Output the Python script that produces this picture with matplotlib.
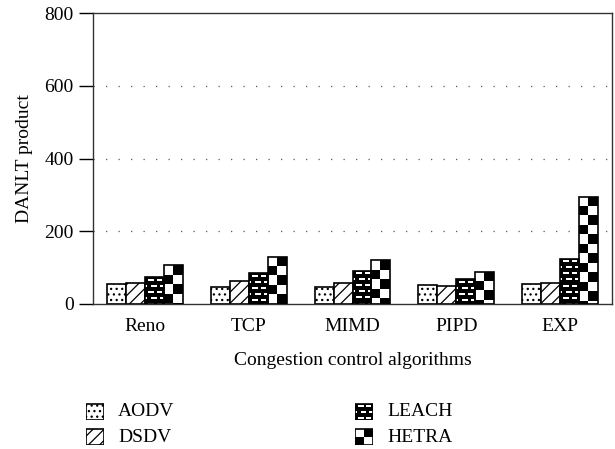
import numpy as np
import matplotlib.pyplot as plt
from matplotlib.patches import Rectangle

plt.rcParams['font.family'] = ['Liberation Serif', 'DejaVu Serif']
plt.rcParams['hatch.linewidth'] = 0.9

# data
algorithms = ["Reno", "TCP", "MIMD", "PIPD", "EXP"]
protocols = ["AODV", "DSDV", "LEACH", "HETRA"]
aodv = [56, 48, 48, 53, 56]
dsdv = [58, 62, 58, 50, 59]
leach = [74, 84, 92, 68, 124]
hetra = [106, 130, 120, 88, 295]
yticks = [0, 200, 400, 600, 800]

series = [aodv, dsdv, leach, hetra]
styles = ["dots", "stripes", "brick", "checker"]


def brick_tile():
    t = np.zeros((12, 19))
    t[2:4, 3:9] = 1
    t[2:4, 12:17] = 1
    t[8:10, 0:2] = 1
    t[8:10, 6:12] = 1
    t[8:10, 15:19] = 1
    return t


def checker_tile():
    return np.array([[1, 0], [0, 1]], dtype=float)


def pattern(kind, nrows):
    tile = brick_tile() if kind == "brick" else checker_tile()
    reps = int(np.ceil(nrows / tile.shape[0])) + 1
    return np.tile(tile, (reps, 1))[:nrows]


def draw_bar(ax, x0, w, h, kind, cell):
    if kind == "dots":
        ax.add_patch(Rectangle((x0, 0), w, h, facecolor="white", edgecolor="black",
                               hatch="...", linewidth=1.2))
        return
    if kind == "stripes":
        ax.add_patch(Rectangle((x0, 0), w, h, facecolor="white", edgecolor="black",
                               hatch="///", linewidth=1.2))
        return
    nrows = int(np.ceil(h / cell))
    img = pattern(kind, nrows)
    clip = Rectangle((x0, 0), w, h, transform=ax.transData, facecolor="none")
    ax.add_patch(clip)
    im = ax.imshow(img, cmap="gray", vmin=0, vmax=1, origin="upper",
                   extent=(x0, x0 + w, h - nrows * cell, h), aspect="auto",
                   interpolation="nearest", zorder=2)
    im.set_clip_path(clip)
    ax.add_patch(Rectangle((x0, 0), w, h, facecolor="none", edgecolor="black",
                           linewidth=1.2, zorder=3))


fig = plt.figure(figsize=(6.15, 4.49), dpi=100)
ax = fig.add_axes([93 / 615, 1 - 304 / 449, (612 - 93) / 615, (304 - 13) / 449])

x = np.arange(len(algorithms))
w = 0.183
cells = {"dots": 0, "stripes": 0, "brick": 2.75, "checker": 26}
for i, (vals, kind) in enumerate(zip(series, styles)):
    for j, v in enumerate(vals):
        x0 = x[j] - 2 * w + i * w
        draw_bar(ax, x0, w, v, kind, cells[kind])

ax.set_xlim(-0.5, 4.5)
ax.set_ylim(0, 800)
ax.set_yticks(yticks)
ax.set_xticks(x)
ax.set_xticklabels(algorithms, fontsize=14)
ax.tick_params(axis="x", length=0, pad=10)
ax.tick_params(axis="y", length=10, width=1, labelsize=14, pad=4)
for yv in yticks[1:-1]:
    ax.axhline(yv, color="0.35", linestyle=(0, (1, 9)), linewidth=0.9, zorder=0)
for s in ax.spines.values():
    s.set_linewidth(1.0)
    s.set_color("0.2")
ax.set_xlabel("Congestion control algorithms", fontsize=14, labelpad=12)
ax.set_ylabel("DANLT product", fontsize=14, labelpad=8)

# legend drawn as swatches below the chart
legend_pos = [(86, 403), (86, 428), (355, 403), (355, 428)]
for name, kind, (px, py) in zip(protocols, styles, legend_pos):
    sw = fig.add_axes([px / 615, 1 - (py + 17) / 449, 18 / 615, 17 / 449])
    sw.set_xlim(0, 1)
    sw.set_ylim(0, 1)
    sw.axis("off")
    cell = {"dots": 0, "stripes": 0, "brick": 1 / 17, "checker": 0.5}[kind]
    draw_bar(sw, 0.02, 0.96, 0.97, kind, cell)
    fig.text((px + 32) / 615, 1 - (py + 9) / 449, name, fontsize=14, va="center", ha="left")

fig.savefig("out.png", dpi=100)
